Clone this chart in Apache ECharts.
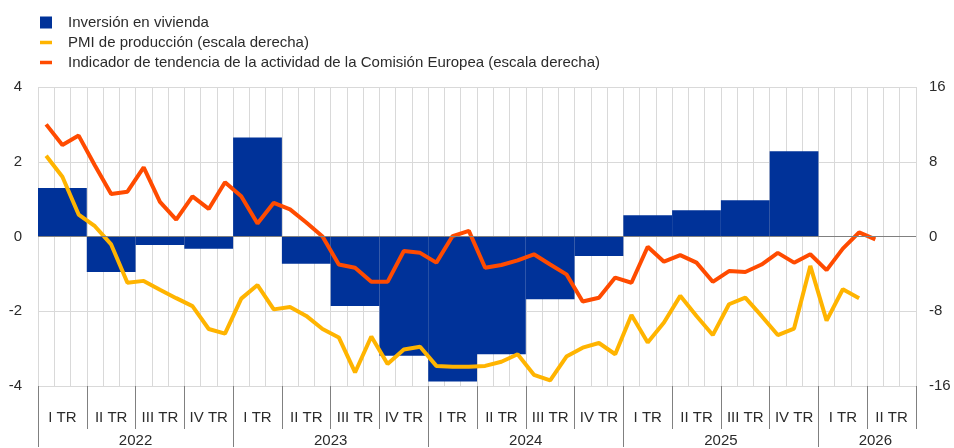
<!DOCTYPE html>
<html>
<head>
<meta charset="utf-8">
<script src="https://cdn.jsdelivr.net/npm/echarts@6/dist/echarts.min.js"></script>
<style>
  html, body { margin: 0; padding: 0; background: #fff; }
  #chart { width: 954px; height: 448px; }
</style>
</head>
<body>
<div id="chart"></div>
<script>
// categorías: meses (2022-01 … 2026-06), trimestres y años
const years = ['2022', '2023', '2024', '2025', '2026']
const monthsPerYear = [12, 12, 12, 12, 6]
const months = []
years.forEach((y, i) => {
  for (let m = 1; m <= monthsPerYear[i]; m++) months.push(y + '-' + String(m).padStart(2, '0'))
})
const quarters = [
  'I TR', 'II TR', 'III TR', 'IV TR',
  'I TR', 'II TR', 'III TR', 'IV TR',
  'I TR', 'II TR', 'III TR', 'IV TR',
  'I TR', 'II TR', 'III TR', 'IV TR',
  'I TR', 'II TR'
]
// posición de etiquetas/separadores de año, en meses desde ene-2022
const yearTicks = [0, 12, 24, 36, 48]
const yearLabelAt = [6, 18, 30, 42, 51.5]

// Inversión en vivienda (trimestral, escala izquierda)
const vivienda = [1.3, -0.95, -0.23, -0.33, 2.65, -0.73, -1.86, -3.19, -3.88, -3.15, -1.68, -0.52, 0.57, 0.70, 0.97, 2.28, null, null]

// PMI de producción (mensual, escala derecha)
const pmi = [
  8.65, 6.4, 2.35, 1.1, -0.85, -4.95, -4.75, -5.7, -6.6, -7.45, -9.9, -10.4,
  -6.65, -5.2, -7.8, -7.55, -8.5, -9.9, -10.8, -14.55, -10.7, -13.65, -12.1, -11.8,
  -13.85, -13.95, -13.95, -13.85, -13.4, -12.6, -14.8, -15.4, -12.85, -11.9, -11.4, -12.6,
  -8.4, -11.35, -9.2, -6.35, -8.5, -10.55, -7.25, -6.55, -8.5, -10.55, -9.85, -3.15,
  -9.0, -5.65, -6.6
]

// Indicador de tendencia de la actividad de la CE (mensual, escala derecha)
const tendencia = [
  12.0, 9.8, 10.8, 7.6, 4.55, 4.8, 7.4, 3.7, 1.8, 4.3, 2.95, 5.8,
  4.3, 1.4, 3.6, 2.9, 1.5, 0.0, -3.0, -3.35, -4.85, -4.85, -1.55, -1.75,
  -2.8, 0.05, 0.6, -3.35, -3.05, -2.55, -1.9, -3.0, -4.05, -6.95, -6.55, -4.4,
  -4.95, -1.1, -2.7, -2.0, -2.8, -4.85, -3.7, -3.8, -3.0, -1.75, -2.8, -1.9,
  -3.6, -1.3, 0.45, -0.3
]

const FONT = "'Liberation Sans', Arial, sans-serif"
const TXT = '#2b2b2b'
const GRIDC = '#d9d9d9'
const TICKC = '#808080'

const names = [
  'Inversión en vivienda',
  'PMI de producción (escala derecha)',
  'Indicador de tendencia de la actividad de la Comisión Europea (escala derecha)'
]

const chart = echarts.init(document.getElementById('chart'), null, { renderer: 'canvas' })

chart.setOption({
  animation: false,
  textStyle: { fontFamily: FONT },
  legend: {
    orient: 'vertical',
    left: 35,
    top: 10,
    itemWidth: 12,
    itemHeight: 12,
    itemGap: 5,
    textStyle: { fontSize: 15, color: TXT, fontFamily: FONT, padding: [0, 0, 0, 11] },
    data: [
      { name: names[0], icon: 'rect' },
      { name: names[1], icon: 'path://M0,0H12V3.5H0Z' },
      { name: names[2], icon: 'path://M0,0H12V3.5H0Z' }
    ]
  },
  grid: { left: 38, right: 38, top: 87, bottom: 61 },
  xAxis: [
    {
      // meses: líneas verticales de la rejilla
      type: 'category',
      data: months,
      position: 'bottom',
      boundaryGap: true,
      axisLine: { show: false, onZero: false },
      axisTick: { show: false },
      axisLabel: { show: false },
      splitLine: { show: true, interval: 0, lineStyle: { color: GRIDC, width: 1 } }
    },
    {
      // trimestres: barras + etiquetas
      type: 'category',
      data: quarters,
      position: 'bottom',
      boundaryGap: true,
      axisLine: { show: false, onZero: false },
      axisTick: { show: true, interval: 0, length: 43, lineStyle: { color: TICKC } },
      axisLabel: { interval: 0, margin: 24, fontSize: 15, color: TXT, fontFamily: FONT },
      splitLine: { show: false }
    },
    {
      // años
      type: 'value',
      min: 0,
      max: months.length,
      position: 'bottom',
      axisLine: { show: false, onZero: false },
      axisTick: { show: true, length: 61, customValues: yearTicks, lineStyle: { color: TICKC } },
      axisLabel: {
        customValues: yearLabelAt,
        formatter: v => years[yearLabelAt.indexOf(v)] || '',
        margin: 47, fontSize: 15, color: TXT, fontFamily: FONT
      },
      splitLine: { show: false }
    }
  ],
  yAxis: [
    {
      type: 'value',
      min: -4, max: 4, interval: 2,
      axisLine: { show: false, onZero: false },
      axisTick: { show: false },
      axisLabel: { margin: 16, fontSize: 15, color: TXT, fontFamily: FONT },
      splitLine: { show: true, lineStyle: { color: GRIDC, width: 1 } }
    },
    {
      type: 'value',
      position: 'right',
      min: -16, max: 16, interval: 8,
      axisLine: { show: false, onZero: false },
      axisTick: { show: false },
      axisLabel: { margin: 13, fontSize: 15, color: TXT, fontFamily: FONT },
      splitLine: { show: false }
    }
  ],
  series: [
    {
      name: names[0],
      type: 'bar',
      xAxisIndex: 1,
      yAxisIndex: 0,
      data: vivienda,
      barCategoryGap: '0%',
      itemStyle: { color: '#003299' },
      markLine: {
        silent: true,
        symbol: 'none',
        label: { show: false },
        lineStyle: { color: TICKC, width: 1, type: 'solid' },
        data: [{ yAxis: 0 }]
      }
    },
    {
      name: names[1],
      type: 'line',
      xAxisIndex: 0,
      yAxisIndex: 1,
      data: pmi,
      showSymbol: false,
      itemStyle: { color: '#ffb400' },
      lineStyle: { color: '#ffb400', width: 4 }
    },
    {
      name: names[2],
      type: 'line',
      xAxisIndex: 0,
      yAxisIndex: 1,
      data: tendencia,
      showSymbol: false,
      itemStyle: { color: '#ff4b00' },
      lineStyle: { color: '#ff4b00', width: 4 }
    }
  ]
})
</script>
</body>
</html>
